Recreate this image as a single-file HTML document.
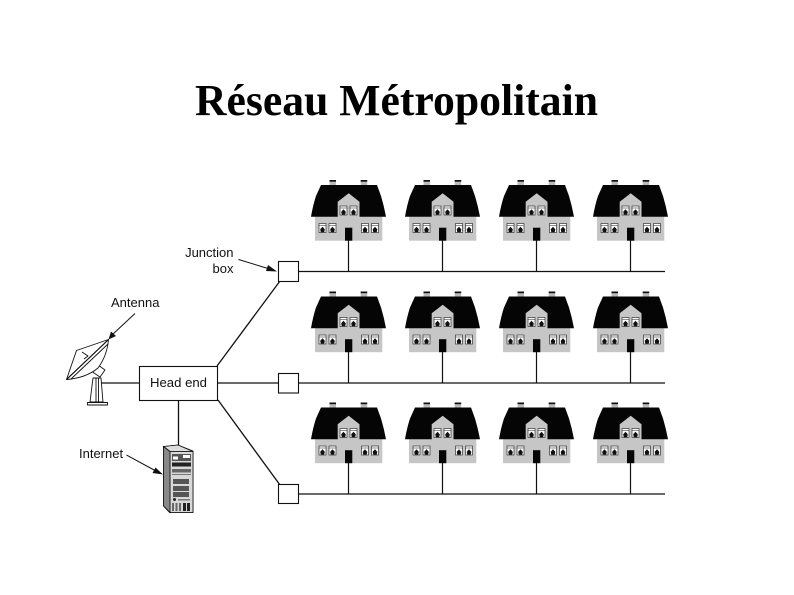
<!DOCTYPE html>
<html lang="fr"><head><meta charset="utf-8"><title>Réseau Métropolitain</title>
<style>html,body{margin:0;padding:0;background:#fff;width:794px;height:595px;overflow:hidden}svg{display:block}
text{font-family:"Liberation Sans",sans-serif;fill:#111}</style></head><body>
<svg width="794" height="595" viewBox="0 0 794 595" xmlns="http://www.w3.org/2000/svg">
<defs>
<g id="w"><rect width="7" height="9" fill="#fff" stroke="#333" stroke-width=".7"/><path d="M0 2H7" stroke="#444" stroke-width=".6"/><path d="M3.500 3.300L5.800 5.700L5.200 8.700H1.800L1.200 5.700Z" fill="#111"/></g>
<g id="h">
<rect x="329.500" y="180" width="6.500" height="5" fill="#bbb"/><rect x="329.500" y="180" width="6.500" height="1.700" fill="#111"/>
<rect x="360.700" y="180" width="6.500" height="5" fill="#bbb"/><rect x="360.700" y="180" width="6.500" height="1.700" fill="#111"/>
<rect x="315" y="216" width="67.300" height="24.700" fill="#c6c6c6"/>
<path d="M321 185H377L381 196Q384 206 386 216.700H311Q313 205 316 196Z" fill="#050505"/>
<path d="M348.700 193.300L359.500 201.700V217H337.700V201.700Z" fill="#c6c6c6"/>
<use href="#w" x="340" y="206"/><use href="#w" x="350" y="206"/>
<use href="#w" x="319" y="223.500"/><use href="#w" x="329" y="223.500"/><use href="#w" x="361.500" y="223.500"/><use href="#w" x="371.500" y="223.500"/>
<rect x="345" y="227.700" width="7.300" height="13" fill="#050505"/>
<path d="M348.500 240V271" stroke="#111" stroke-width="1.200"/>
</g>
<g id="row"><use href="#h"/><use href="#h" x="94"/><use href="#h" x="188"/><use href="#h" x="282"/></g>
</defs>
<text x="195" y="115" style="font-family:'Liberation Serif',serif;font-weight:bold;font-size:44px;fill:#000" textLength="403" lengthAdjust="spacingAndGlyphs">Réseau Métropolitain</text>

<use href="#row"/><use href="#row" y="111.500"/><use href="#row" y="222.500"/>

<g stroke="#111" stroke-width="1.300" fill="none">
<path d="M298 271.500H665M298 383H665M298 494H665"/>
<path d="M100 383H139M218 383H278M178.500 400V446"/>
<path d="M217 366L280 281M218 400L280 485"/>
</g>
<g fill="#fff" stroke="#111" stroke-width="1.100">
<rect x="278.500" y="261.500" width="20" height="20"/>
<rect x="278.500" y="373.500" width="20" height="19.500"/>
<rect x="278.500" y="484.500" width="20" height="19"/>
<rect x="139.500" y="366.500" width="78" height="34"/>
</g>
<text x="178.500" y="387" font-size="13" text-anchor="middle" textLength="57" lengthAdjust="spacingAndGlyphs">Head end</text>
<text x="233.500" y="257" font-size="13" text-anchor="end">Junction</text>
<text x="233.500" y="273" font-size="13" text-anchor="end">box</text>
<text x="111" y="307" font-size="13">Antenna</text>
<text x="79" y="458" font-size="13">Internet</text>

<g stroke="#111" stroke-width="1" fill="none">
<path d="M238.500 259.500L268 268.500M135 313.500L113 334M126.500 455L155 470.500"/>
</g>
<path d="M277 271.500L266 271L268 265Z" fill="#111"/>
<path d="M108.500 339.500L111 331.500L116 336Z" fill="#111"/>
<path d="M163 474.500L152.500 473L155.500 467.500Z" fill="#111"/>

<g fill="#fff" stroke="#111" stroke-width=".9" stroke-linejoin="round">
<path d="M93 378L101 378L103 402H90Z"/><path d="M96 378V402M98.500 378V402" />
<path d="M98 365L105 370L100 377L92.500 372Z"/>
<path d="M108.500 339.500Q107 356 98 368Q86 378 66.500 379.500Z"/>
<path d="M108.500 339.500L76.500 350.500L66.500 379.500Z"/>
<path d="M68 378L107 341M71 379L108 344"/>
<path d="M82 352L88 356L84 359"/>
<rect x="87.500" y="402.500" width="20" height="2.500"/>
</g>

<g stroke="#111" stroke-width=".8">
<path d="M163.500 446.500L178 445L193 451V512.500H169.500L163.500 506Z" fill="#999"/>
<path d="M163.500 446.500L170 451.500H193L178 445Z" fill="#ddd"/>
<rect x="170" y="451.500" width="23" height="61" fill="#d8d8d8"/>
<path d="M163.500 446.500L170 451.500V512.500L163.500 506Z" fill="#888"/>
</g>
<g fill="#222">
<rect x="172" y="454" width="19" height="7" fill="#555"/><rect x="173" y="456.500" width="5" height="3" fill="#fff"/><rect x="183" y="455" width="7" height="3" fill="#fff"/>
<rect x="172" y="462.500" width="19" height="4"/><rect x="172" y="469" width="19" height="3.500" fill="#666"/>
<rect x="172" y="474" width="19" height="1" fill="#777"/>
<rect x="173" y="479" width="16" height="5" fill="#555"/><rect x="173" y="486" width="16" height="5" fill="#555"/><rect x="173" y="492" width="16" height="5" fill="#555"/>
<circle cx="174.500" cy="499.500" r="1.500"/><rect x="178" y="499" width="12" height="1.500" fill="#777"/>
<rect x="172" y="503" width="2" height="8" fill="#666"/><rect x="175.500" y="503" width="2" height="8" fill="#666"/><rect x="179" y="503" width="2" height="8" fill="#666"/><rect x="183" y="503" width="3" height="8"/><rect x="187" y="503" width="3" height="8"/>
</g>
</svg></body></html>
